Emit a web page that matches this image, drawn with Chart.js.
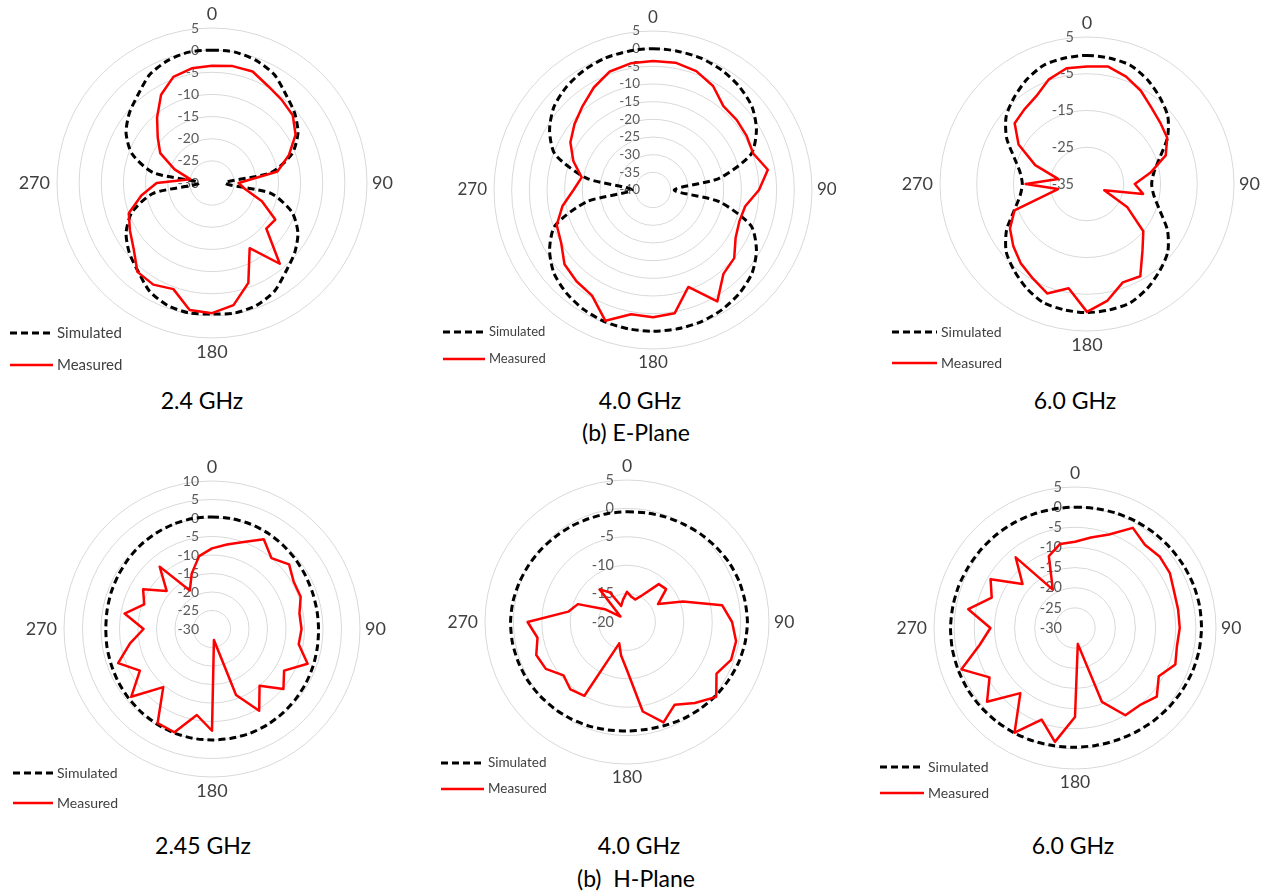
<!DOCTYPE html>
<html>
<head>
<meta charset="utf-8">
<script src="https://cdn.jsdelivr.net/npm/chart.js@4.4.1/dist/chart.umd.min.js"></script>
<style>
  body { margin: 0; background: #fff; width: 1274px; height: 892px; position: relative; overflow: hidden; font-family: Lato, "Open Sans", sans-serif; }
  .panel { position: absolute; }
  .cap { position: absolute; font-size: 23px; color: #000; transform: translate(-50%, -50%); white-space: pre; line-height: 1; }
</style>
</head>
<body>
<div class="cap" style="left:202px;top:400px">2.4 GHz</div>
<div class="cap" style="left:640px;top:400px">4.0 GHz</div>
<div class="cap" style="left:1075px;top:400px">6.0 GHz</div>
<div class="cap" style="left:636px;top:432px">(b) E-Plane</div>
<div class="cap" style="left:203px;top:845px">2.45 GHz</div>
<div class="cap" style="left:639px;top:845px">4.0 GHz</div>
<div class="cap" style="left:1073px;top:845px">6.0 GHz</div>
<div class="cap" style="left:636px;top:878px">(b)  H-Plane</div>

<script>
// angle categories, every 10 degrees, clockwise from the top
const angleLabels = ['0', '10', '20', '30', '40', '50', '60', '70', '80', '90', '100', '110',
  '120', '130', '140', '150', '160', '170', '180', '190', '200', '210', '220', '230',
  '240', '250', '260', '270', '280', '290', '300', '310', '320', '330', '340', '350'];
const shownAngles = ['0', '90', '180', '270'];
const seriesNames = ['Simulated', 'Measured'];

//E-plane 2.4 GHz
const eSim24 = [0, 0, -0.6, -1.8, -4, -5.6, -7.6, -10.8, -16.5, -27, -16.5, -10.8,
  -7.6, -5.6, -4, -1.8, -0.6, -0.2, -0.4, -0.2, -0.6, -1.8, -4, -5.6,
  -7.6, -10.8, -16.5, -27, -16.5, -10.8, -7.6, -5.6, -4, -1.8, -0.6, 0];
const eMeas24 = [-3.5, -3.2, -3.2, -4.7, -5.5, -6.2, -8.2, -11.5, -15, -24, -22.5, -18,
  -13.5, -14, -6.2, -13, -6, -2, -0.6, -0.9, -4.5, -3.5, -3.8, -6.9,
  -8.6, -10, -13.8, -17.5, -25, -21, -16.5, -14, -10.7, -7, -4.5, -3.7];

//E-plane 4.0 GHz
const eSim40 = [0, -0.1, -0.3, -0.9, -1.9, -3.4, -6.2, -10.5, -21, -34, -21, -10.5,
  -6.2, -3.4, -1.9, -0.9, -0.3, -0.1, 0, -0.1, -0.3, -0.9, -1.9, -3.4,
  -6.2, -10.5, -21, -34, -21, -10.5, -6.2, -3.4, -1.9, -0.9, -0.3, -0.1];
const eMeas40 = [-3.5, -3.4, -4.2, -6, -9, -9.1, -9.4, -9.8, -7, -10, -13.5, -14,
  -13, -10, -9, -3.6, -10.8, -4.6, -4, -4.3, -0.6, -5.5, -6.3, -7.3,
  -10, -11, -14, -17.5, -19.5, -16, -13, -11, -9, -6.5, -4.3, -3.6];

//E-plane 6.0 GHz
const eSim60 = [0, -0.2, -0.6, -2.2, -4.2, -6.3, -9.7, -13.9, -16.5, -17.4, -16.5, -13.9,
  -9.7, -6.3, -4.2, -2.2, -0.6, -0.2, 0, -0.2, -0.6, -2.2, -4.2, -6.3,
  -9.7, -13.9, -16.5, -17.4, -16.5, -13.9, -9.7, -6.3, -4.2, -2.2, -0.6, -0.2];
const eMeas60 = [-3, -2.5, -3.9, -5.7, -7.8, -9, -9.8, -12.2, -17.5, -22, -19.5, -30,
  -22.3, -15, -11.5, -6, -6.5, -2.8, -0.2, -6.2, -3.3, -5.4, -6.9, -8.8,
  -10.8, -14, -27, -18.3, -27, -20, -13.5, -9.3, -8.5, -7.4, -4.7, -3];

//H-plane 2.45 GHz
const hSim245 = [0.3, 0.3, 0.2, 0, -0.3, -0.6, -0.9, -1.1, -1.2, -1.2, -1.1, -0.9,
  -0.7, -0.5, -0.3, -0.1, 0, 0, 0, 0, -0.1, -0.3, -0.5, -0.7,
  -0.9, -1.1, -1.2, -1.3, -1.2, -1, -0.8, -0.5, -0.2, 0, 0.2, 0.3];
const hMeas245 = [-8.2, -6.8, -5, -2, -5, -2.8, -4.5, -4.5, -6, -5.8, -6.2, -2.5,
  -7.5, -4.8, -10, -4.5, -11, -27, -2.5, -6.4, -0.3, -0.6, -9.5, -1.5,
  -7.5, -3, -7.5, -11.5, -6, -10.5, -8.5, -14, -8, -18, -14, -10];

//H-plane 4.0 GHz
const hSim40 = [-0.6, -0.5, -0.3, -0.1, 0.2, 0.5, 0.8, 1, 1.1, 1.2, 1.1, 0.9,
  0.6, 0.3, 0, -0.3, -0.6, -0.8, -0.8, -0.7, -0.5, -0.3, -0.1, 0.1,
  0.3, 0.4, 0.5, 0.5, 0.4, 0.2, 0, -0.2, -0.4, -0.5, -0.6, -0.6];
const hMeas40 = [-14.7, -15.5, -15.8, -14.5, -11.3, -11, -13.7, -9.5, -3, -1.5, -0.5, -0.5,
  -1.8, 0.5, -1.4, -3.2, -1.2, -4, -11.5, -14, -16, -5, -4.5, -5.4,
  -3.5, -3, -4, -2.5, -9.5, -10.8, -15.5, -18.5, -12.5, -14, -17, -16];

//H-plane 6.0 GHz
const hSim60 = [0, 0.1, 0.3, 0.5, 0.7, 0.9, 1.1, 1.3, 1.4, 1.4, 1.3, 1.1,
  0.8, 0.5, 0.2, -0.1, -0.3, -0.4, -0.4, -0.3, -0.1, 0.1, 0.3, 0.5,
  0.7, 0.8, 0.9, 0.9, 0.8, 0.7, 0.5, 0.4, 0.3, 0.2, 0.1, 0];
const hMeas60 = [-8.6, -7.2, -5.3, -1.3, -3, -2.5, -2.8, -3.8, -4, -4, -4.3, -3.5,
  -6, -3.5, -5, -5, -10.5, -26, -7.9, -1.3, -5.8, 0, -8.9, -1.5,
  -5.5, 0, -6, -9, -3.1, -8, -5.8, -13, -7.1, -19, -11, -8.8];

// radial axis ranges (dB) for the six panels
const axisMin = [-30, -40, -35, -30, -20, -30];
const axisMax = [5, 5, 5, 10, 5, 5];
const axisStep = [5, 5, 10, 5, 5, 5];

const simSeries = [eSim24, eSim40, eSim60, hSim245, hSim40, hSim60];
const measSeries = [eMeas24, eMeas40, eMeas60, hMeas245, hMeas40, hMeas60];

// layout of each panel: box, circle centre (in box), radius, legend, font sizes
const layouts = [
  { box: [0, 0, 425, 390], c: [212, 183], R: 155, leg: [10, 333, 365, 43], tick: 14, ang: 18, lf: 15 },
  { box: [425, 0, 425, 390], c: [228, 190], R: 159, leg: [18, 332, 359, 42], tick: 13.5, ang: 17, lf: 13 },
  { box: [850, 0, 424, 390], c: [237, 184], R: 147, leg: [42, 332, 363, 45], tick: 14.5, ang: 18, lf: 14 },
  { box: [0, 440, 425, 410], c: [212, 189], R: 148, leg: [13, 333, 363, 40], tick: 14, ang: 18, lf: 14 },
  { box: [425, 440, 425, 410], c: [202, 182], R: 142, leg: [16, 323, 349, 43], tick: 14.5, ang: 17.5, lf: 13.5 },
  { box: [850, 440, 424, 410], c: [225, 188], R: 141, leg: [30, 327, 353, 44], tick: 14.5, ang: 17.5, lf: 14 }
];

// tick labels left of the axis, angle labels and the legend, drawn on the chart canvas
const polarDecor = {
  id: 'polarDecor',
  beforeDatasetsDraw(chart, args, opts) {
    const r = chart.scales.r;
    const ctx = chart.ctx;
    ctx.save();
    ctx.font = opts.tick + 'px Lato';
    ctx.fillStyle = '#595959';
    ctx.textAlign = 'right';
    ctx.textBaseline = 'middle';
    r.ticks.forEach(t => {
      const d = r.getDistanceFromCenterForValue(t.value);
      ctx.fillText(t.label, r.xCenter - 13, r.yCenter - d);
    });

    ctx.font = opts.ang + 'px Lato';
    ctx.fillStyle = '#404040';
    chart.data.labels.forEach((lab, i) => {
      if (!shownAngles.includes(lab)) return;
      if (lab === '0') { ctx.textAlign = 'center'; ctx.textBaseline = 'bottom'; }
      if (lab === '90') { ctx.textAlign = 'left'; ctx.textBaseline = 'middle'; }
      if (lab === '180') { ctx.textAlign = 'center'; ctx.textBaseline = 'top'; }
      if (lab === '270') { ctx.textAlign = 'right'; ctx.textBaseline = 'middle'; }
      const p = r.getPointPosition(i, r.drawingArea + (lab === '270' ? 7 : 5));
      ctx.fillText(lab, p.x, p.y);
    });
    ctx.restore();
  },
  afterDraw(chart, args, opts) {
    const ctx = chart.ctx;
    const [x, y1, y2, len] = opts.leg;
    ctx.save();
    chart.data.datasets.forEach((ds, i) => {
      const y = i === 0 ? y1 : y2;
      ctx.beginPath();
      ctx.setLineDash(ds.borderDash || []);
      ctx.strokeStyle = ds.borderColor;
      ctx.lineWidth = ds.borderWidth;
      ctx.moveTo(x, y);
      ctx.lineTo(x + len, y);
      ctx.stroke();
      ctx.setLineDash([]);
      ctx.font = opts.lf + 'px Lato';
      ctx.fillStyle = '#404040';
      ctx.textAlign = 'left';
      ctx.textBaseline = 'middle';
      ctx.fillText(ds.label, x + len + 4, y);
    });
    ctx.restore();
  }
};

layouts.forEach((lay, k) => {
  const div = document.createElement('div');
  div.className = 'panel';
  div.style.left = lay.box[0] + 'px';
  div.style.top = lay.box[1] + 'px';
  div.style.width = lay.box[2] + 'px';
  div.style.height = lay.box[3] + 'px';
  const cv = document.createElement('canvas');
  cv.width = lay.box[2];
  cv.height = lay.box[3];
  div.appendChild(cv);
  document.body.appendChild(div);

  const w = lay.box[2], h = lay.box[3];
  new Chart(cv, {
    type: 'radar',
    data: {
      labels: angleLabels,
      datasets: [{
        label: seriesNames[0],
        data: simSeries[k],
        borderColor: '#000000',
        borderWidth: 3,
        borderDash: [7, 4],
        pointRadius: 0,
        fill: false,
        tension: 0.25,
        order: 1
      }, {
        label: seriesNames[1],
        data: measSeries[k],
        borderColor: '#ff0000',
        borderWidth: 2.5,
        borderJoinStyle: 'round',
        pointRadius: 0,
        fill: false,
        tension: 0,
        order: 0
      }]
    },
    options: {
      responsive: false,
      animation: false,
      layout: {
        padding: {
          left: lay.c[0] - lay.R,
          top: lay.c[1] - lay.R,
          right: w - lay.c[0] - lay.R,
          bottom: h - lay.c[1] - lay.R
        }
      },
      plugins: {
        legend: { display: false },
        tooltip: { enabled: false },
        polarDecor: { tick: lay.tick, ang: lay.ang, lf: lay.lf, leg: lay.leg }
      },
      scales: {
        r: {
          min: axisMin[k],
          max: axisMax[k],
          ticks: { stepSize: axisStep[k], display: false },
          grid: { circular: true, color: '#d9d9d9', lineWidth: 1 },
          angleLines: { display: false },
          pointLabels: { display: false }
        }
      }
    },
    plugins: [polarDecor]
  });
});
</script>
</body>
</html>
